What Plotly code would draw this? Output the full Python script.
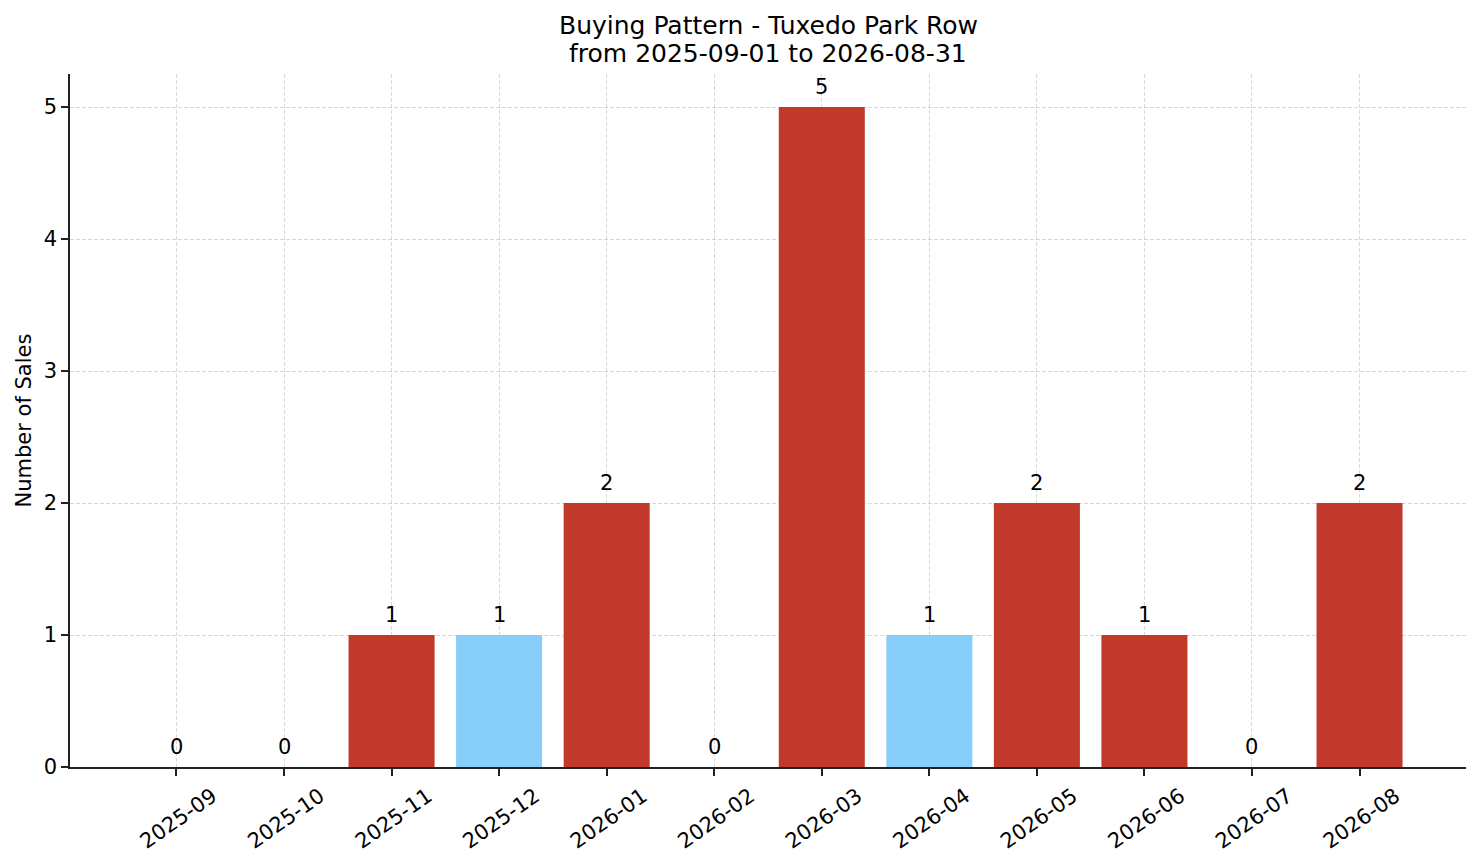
import plotly.graph_objects as go

# Monthly sales counts
months = ["2025-09", "2025-10", "2025-11", "2025-12", "2026-01", "2026-02",
          "2026-03", "2026-04", "2026-05", "2026-06", "2026-07", "2026-08"]
sales = [0, 0, 1, 1, 2, 0, 5, 1, 2, 1, 0, 2]
bar_colors = ["#C0392B", "#C0392B", "#C0392B", "#87CEFA", "#C0392B", "#C0392B",
              "#C0392B", "#87CEFA", "#C0392B", "#C0392B", "#C0392B", "#C0392B"]
y_ticks = [0, 1, 2, 3, 4, 5]
title_lines = ["Buying Pattern - Tuxedo Park Row", "from 2025-09-01 to 2026-08-31"]

FONT = "DejaVu Sans"
GRID = "rgba(170,170,170,0.45)"
x_pos = list(range(len(months)))

fig = go.Figure()
fig.add_trace(go.Bar(
    x=x_pos, y=sales, width=0.8,
    marker=dict(color=bar_colors, line=dict(width=0)),
))

# value labels above each bar
for xi, v in zip(x_pos, sales):
    fig.add_annotation(x=xi, y=v, text=str(v), showarrow=False,
                       xanchor="center", yanchor="bottom", yshift=6,
                       font=dict(family=FONT, size=21, color="black"))

# two-line title, kept as separate lines for tighter spacing
for line, shift in zip(title_lines, [49, 21]):
    fig.add_annotation(x=0.5, xref="paper", y=1, yref="paper", text=line,
                       showarrow=False, xanchor="center", yanchor="middle",
                       yshift=shift, font=dict(family=FONT, size=25, color="black"))

# y axis title as an annotation so its distance from the axis is fixed
fig.add_annotation(x=0, xref="paper", y=0.5, yref="paper", text="Number of Sales",
                   showarrow=False, textangle=-90, xanchor="center", yanchor="middle",
                   xshift=-47, font=dict(family=FONT, size=21, color="black"))

# page body adds ~8px margin, so the figure is a bit smaller than the window
fig.update_layout(
    width=1465, height=847,
    paper_bgcolor="white", plot_bgcolor="white",
    margin=dict(l=62, r=7, t=66, b=88),
    font=dict(family=FONT, size=21, color="black"),
    showlegend=False,
    bargap=0.2,
)
fig.update_xaxes(
    range=[-0.99, 11.99], tickmode="array", tickvals=x_pos, ticktext=months,
    tickangle=-35, ticks="outside", ticklen=7, tickwidth=1.5, tickcolor="#222",
    ticklabelshift=36,  # centre rotated labels on their ticks, like the original
    showline=True, linecolor="#222", linewidth=1.6,
    showgrid=True, gridcolor=GRID, griddash="4px,2px", gridwidth=1,
    zeroline=False, layer="above traces", automargin=False,
    tickfont=dict(family=FONT, size=21),
)
fig.update_yaxes(
    range=[0, 5.25], tickmode="array", tickvals=y_ticks,
    ticks="outside", ticklen=7, tickwidth=1.5, tickcolor="#222",
    showline=True, linecolor="#222", linewidth=1.6,
    showgrid=True, gridcolor=GRID, griddash="4px,2px", gridwidth=1,
    zeroline=False, layer="above traces", automargin=False,
    tickfont=dict(family=FONT, size=21),
)

fig.write_html("out.html")
